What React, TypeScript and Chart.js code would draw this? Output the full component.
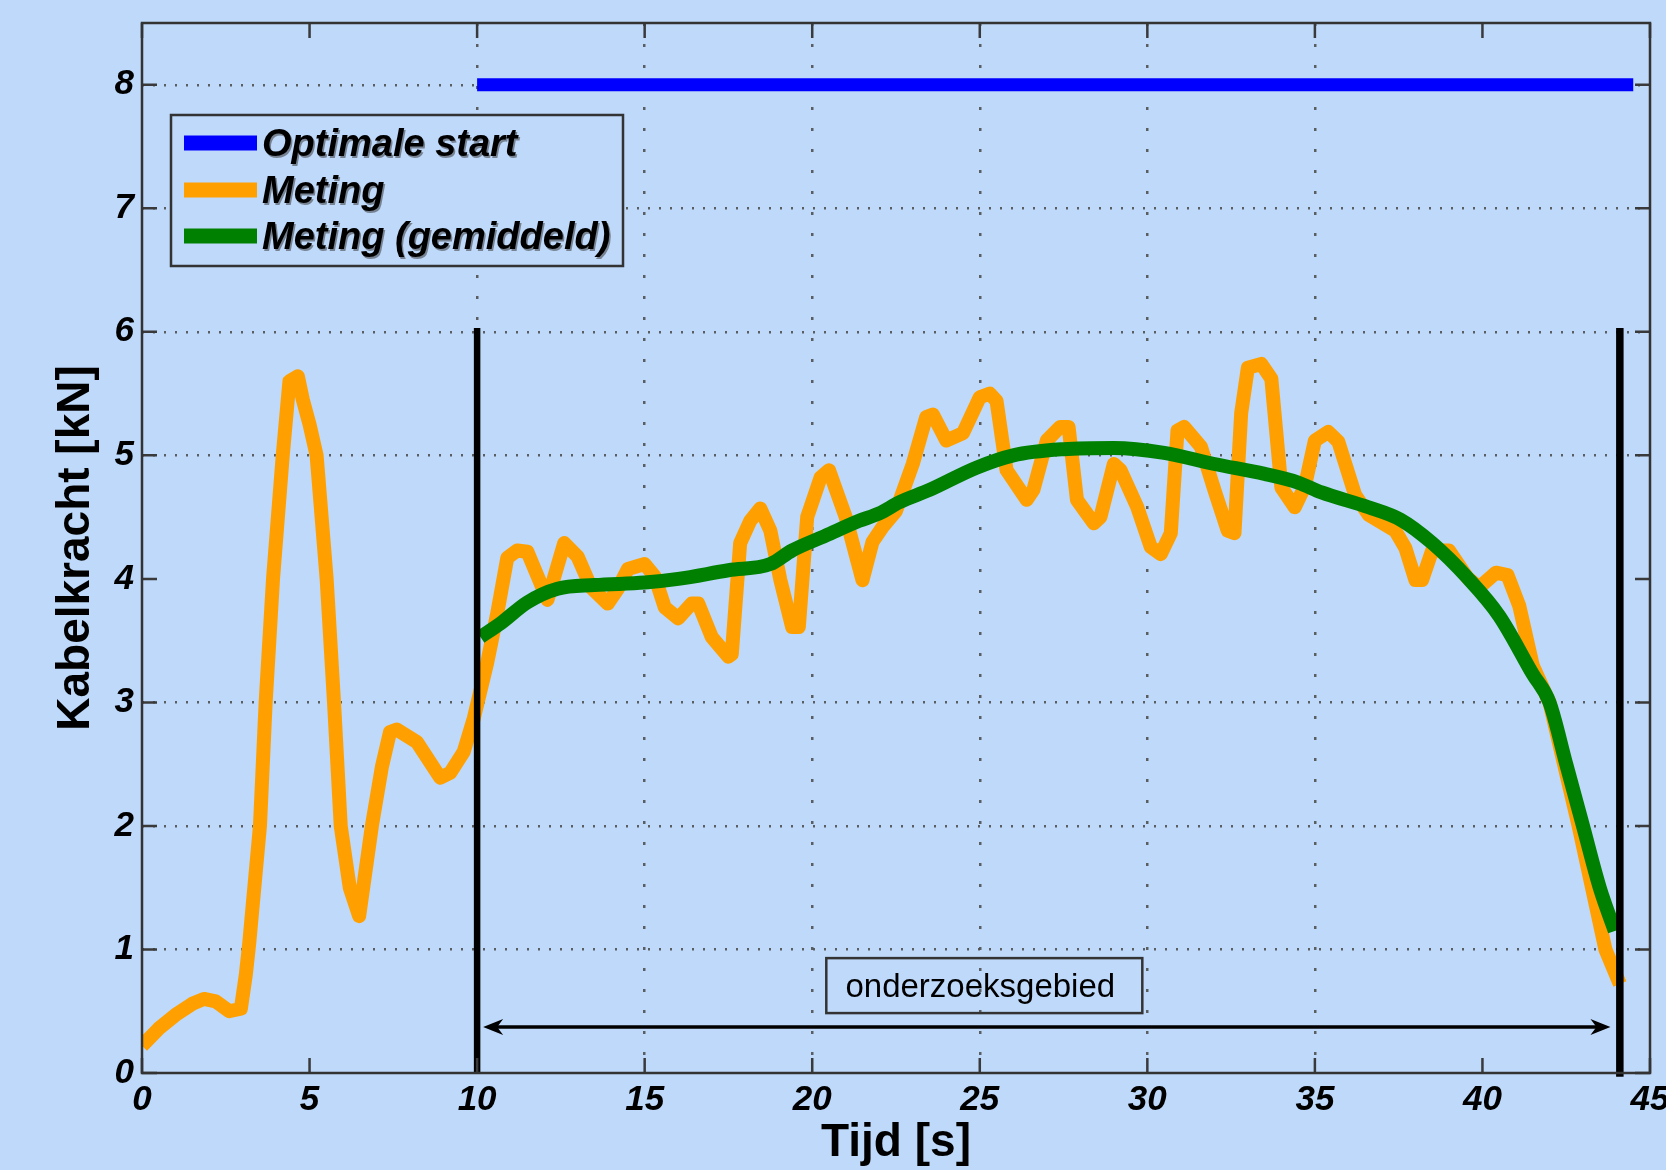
import { useEffect, useRef } from 'react';
import { Chart, registerables } from 'chart.js';

Chart.register(...registerables);

const BG = 'rgb(190,217,250)';
const FONT = '"Liberation Sans", Arial, sans-serif';
const GRID = 'rgba(80,80,80,0.9)';

// ---- axis ticks ----
const xTicks = [0, 5, 10, 15, 20, 25, 30, 35, 40, 45];
const yTicks = [0, 1, 2, 3, 4, 5, 6, 7, 8];
const xGridHidden = [0, 5, 40, 45];
const yGridHidden = [0, 4];

// ---- Meting (measurement) ----
const meetTijd = [
  0.0, 0.5, 1.0, 1.5, 1.85, 2.2, 2.6, 2.95, 3.1, 3.2, 3.52, 3.69, 3.91, 4.2, 4.4, 4.65, 4.8, 5.0,
  5.21, 5.51, 5.73, 5.93, 6.2, 6.48, 6.86, 7.16, 7.4, 7.6, 8.2, 8.9, 9.2, 9.6, 9.9, 10.3, 10.6,
  10.9, 11.2, 11.5, 12.1, 12.6, 13.0, 13.4, 13.9, 14.2, 14.5, 15.0, 15.3, 15.6, 16.0, 16.4, 16.6,
  17.0, 17.5, 17.6, 17.85, 18.15, 18.45, 18.75, 19.05, 19.4, 19.6, 19.85, 20.25, 20.5, 21.0, 21.5,
  21.8, 22.1, 22.5, 23.0, 23.4, 23.6, 24.0, 24.5, 25.0, 25.3, 25.5, 25.8, 26.4, 26.6, 27.0, 27.4,
  27.65, 27.9, 28.4, 28.6, 29.0, 29.2, 29.7, 30.1, 30.4, 30.7, 30.9, 31.1, 31.6, 32.0, 32.4, 32.6,
  32.8, 33.0, 33.4, 33.7, 34.0, 34.4, 34.7, 35.0, 35.4, 35.7, 36.2, 36.6, 37.4, 37.7, 38.0, 38.2,
  38.5, 39.0, 39.55, 39.9, 40.4, 40.75, 41.1, 41.5, 42.0, 42.87, 43.67, 44.1,
];
const meetKracht = [
  0.22, 0.36, 0.47, 0.56, 0.6, 0.58, 0.5, 0.52, 0.8, 1.05, 2.0, 3.0, 4.0, 5.0, 5.6, 5.64, 5.45, 5.25,
  5.0, 4.0, 3.0, 2.0, 1.5, 1.27, 2.0, 2.48, 2.76, 2.78, 2.68, 2.39, 2.43, 2.6, 2.87, 3.32, 3.72,
  4.17, 4.23, 4.22, 3.83, 4.29, 4.18, 3.93, 3.8, 3.92, 4.08, 4.12, 4.02, 3.77, 3.68, 3.8, 3.8,
  3.53, 3.37, 3.39, 4.29, 4.47, 4.57, 4.39, 3.99, 3.61, 3.61, 4.5, 4.82, 4.88, 4.5, 3.99,
  4.3, 4.42, 4.55, 4.93, 5.31, 5.33, 5.12, 5.18, 5.47, 5.5, 5.44, 4.88, 4.64, 4.72, 5.12, 5.23,
  5.23, 4.64, 4.45, 4.5, 4.93, 4.88, 4.58, 4.26, 4.2, 4.37, 5.2, 5.23, 5.07, 4.72, 4.39, 4.37,
  5.34, 5.71, 5.74, 5.62, 4.74, 4.58, 4.75, 5.12, 5.19, 5.11, 4.68, 4.52, 4.39, 4.25, 3.99, 3.99,
  4.23, 4.23, 4.01, 3.93, 4.05, 4.03, 3.78, 3.3, 3.0, 2.0, 1.0, 0.72,
];

// ---- Meting (gemiddeld) (averaged) ----
const gemTijd = [
  10.1, 10.7, 11.5, 12.4, 13.5, 15.0, 16.0, 17.5, 18.75, 19.4, 20.4, 21.4, 22.0, 22.6, 23.5, 24.9,
  26.0, 27.5, 29.0, 30.5, 32.0, 33.5, 34.5, 35.2, 36.6, 37.55, 38.5, 39.55, 40.5, 41.5, 42.0, 42.5,
  43.0, 43.5, 43.95,
];
const gemKracht = [
  3.53, 3.64, 3.81, 3.92, 3.95, 3.97, 4.0, 4.07, 4.12, 4.23, 4.35, 4.47, 4.53, 4.62, 4.72, 4.9,
  5.0, 5.05, 5.06, 5.02, 4.93, 4.85, 4.78, 4.7, 4.58, 4.48, 4.29, 4.01, 3.7, 3.23, 3.0, 2.5,
  2.0, 1.5, 1.15,
];

// ---- Optimale start ----
const optTijd = [10, 44.5];
const optKracht = [8, 8];

// ---- boundaries of research area ----
const grensStartTijd = [10, 10];
const grensStartKracht = [0, 6.03];
const grensEindTijd = [44.1, 44.1];
const grensEindKracht = [-0.03, 6.03];

// ---- annotation ----
const gebiedTekst = 'onderzoeksgebied';
const gebiedBoxTijd = [20.42, 29.85];
const gebiedBoxKracht = [0.485, 0.93];
const pijlTijd = [10.18, 43.82];
const pijlKracht = 0.372;

const xTitle = 'Tijd [s]';
const yTitle = 'Kabelkracht [kN]';

const toXY = (xs: number[], ys: number[]) => xs.map((x, i) => ({ x, y: ys[i] }));

const decorPlugin = {
  id: 'matlabDecor',
  beforeDraw(chart: any) {
    const { ctx, width, height } = chart;
    ctx.save();
    ctx.fillStyle = BG;
    ctx.fillRect(0, 0, width, height);
    ctx.restore();
  },
  afterDatasetsDraw(chart: any) {
    const { ctx } = chart;
    const xs = chart.scales.x;
    const ys = chart.scales.y;
    ctx.save();
    // annotation box
    const bx0 = xs.getPixelForValue(gebiedBoxTijd[0]);
    const bx1 = xs.getPixelForValue(gebiedBoxTijd[1]);
    const by0 = ys.getPixelForValue(gebiedBoxKracht[0]);
    const by1 = ys.getPixelForValue(gebiedBoxKracht[1]);
    ctx.strokeStyle = '#333';
    ctx.lineWidth = 2.5;
    ctx.strokeRect(bx0, by1, bx1 - bx0, by0 - by1);
    ctx.fillStyle = '#000';
    ctx.font = `33px ${FONT}`;
    ctx.textAlign = 'center';
    ctx.textBaseline = 'alphabetic';
    ctx.fillText(gebiedTekst, (bx0 + bx1) / 2 - 4, by0 - 16);
    // double arrow
    const ax0 = xs.getPixelForValue(pijlTijd[0]);
    const ax1 = xs.getPixelForValue(pijlTijd[1]);
    const ay = ys.getPixelForValue(pijlKracht);
    ctx.strokeStyle = '#000';
    ctx.lineWidth = 3.5;
    ctx.beginPath();
    ctx.moveTo(ax0 + 6, ay);
    ctx.lineTo(ax1 - 6, ay);
    ctx.stroke();
    const head = (tip: number, dir: number) => {
      ctx.beginPath();
      ctx.moveTo(tip, ay);
      ctx.lineTo(tip + dir * 20, ay - 8);
      ctx.lineTo(tip + dir * 14, ay);
      ctx.lineTo(tip + dir * 20, ay + 8);
      ctx.closePath();
      ctx.fill();
    };
    head(ax0, 1);
    head(ax1, -1);
    ctx.restore();
  },
  afterDraw(chart: any) {
    const { ctx, chartArea } = chart;
    const { left, right, top, bottom } = chartArea;
    const xs = chart.scales.x;
    const ys = chart.scales.y;
    ctx.save();
    // inward ticks
    ctx.strokeStyle = '#3a3a3a';
    ctx.lineWidth = 2.5;
    ctx.beginPath();
    xTicks.forEach((v) => {
      const p = xs.getPixelForValue(v);
      ctx.moveTo(p, bottom);
      ctx.lineTo(p, bottom - 15);
      ctx.moveTo(p, top);
      ctx.lineTo(p, top + 15);
    });
    yTicks.forEach((v) => {
      const p = ys.getPixelForValue(v);
      ctx.moveTo(left, p);
      ctx.lineTo(left + 15, p);
      ctx.moveTo(right, p);
      ctx.lineTo(right - 15, p);
    });
    ctx.stroke();
    // box
    ctx.strokeStyle = '#333';
    ctx.lineWidth = 2.5;
    ctx.strokeRect(left, top, right - left, bottom - top);

    // legend
    const lx = left + 29;
    const ly = top + 92;
    const lw = 452;
    const lh = 151;
    ctx.fillStyle = BG;
    ctx.fillRect(lx, ly, lw, lh);
    ctx.strokeStyle = '#333';
    ctx.lineWidth = 2.5;
    ctx.strokeRect(lx, ly, lw, lh);
    const rows = [28, 75, 121];
    const entries = chart.data.datasets.filter((d: any) => d.label);
    ctx.font = `italic bold 38px ${FONT}`;
    ctx.textAlign = 'left';
    ctx.textBaseline = 'alphabetic';
    entries.forEach((d: any, i: number) => {
      const ry = ly + rows[i];
      ctx.strokeStyle = d.borderColor;
      ctx.lineWidth = 15;
      ctx.lineCap = 'butt';
      ctx.beginPath();
      ctx.moveTo(lx + 13, ry);
      ctx.lineTo(lx + 86, ry);
      ctx.stroke();
      ctx.save();
      ctx.shadowColor = 'rgba(60,60,60,0.55)';
      ctx.shadowOffsetX = 1.5;
      ctx.shadowOffsetY = 1.5;
      ctx.fillStyle = '#000';
      ctx.fillText(d.label, lx + 91, ry + 13);
      ctx.restore();
    });
    ctx.restore();
  },
};

const tickFont = { family: FONT, size: 35, weight: 'bold' as const, style: 'italic' as const };

export default function App() {
  const ref = useRef<HTMLCanvasElement>(null);
  useEffect(() => {
    document.body.style.margin = '0';
    document.body.style.background = BG;
    const canvas = ref.current!;
    const chart = new Chart(canvas, {
      type: 'line',
      data: {
        datasets: [
          {
            label: 'Optimale start',
            data: toXY(optTijd, optKracht),
            borderColor: '#0000ff',
            borderWidth: 13,
            pointRadius: 0,
            order: 3,
          },
          {
            label: 'Meting',
            data: toXY(meetTijd, meetKracht),
            borderColor: '#ffa000',
            borderWidth: 14,
            pointRadius: 0,
            borderJoinStyle: 'round',
            order: 2,
          },
          {
            label: 'Meting (gemiddeld)',
            data: toXY(gemTijd, gemKracht),
            borderColor: '#008000',
            borderWidth: 14,
            pointRadius: 0,
            borderJoinStyle: 'round',
            cubicInterpolationMode: 'monotone',
            order: 1,
          },
          {
            data: toXY(grensStartTijd, grensStartKracht),
            borderColor: '#000',
            borderWidth: 6.5,
            pointRadius: 0,
            order: 0,
            clip: false,
          } as any,
          {
            data: toXY(grensEindTijd, grensEindKracht),
            borderColor: '#000',
            borderWidth: 7.5,
            pointRadius: 0,
            order: 0,
            clip: false,
          } as any,
        ],
      },
      options: {
        responsive: false,
        animation: false,
        devicePixelRatio: 1,
        layout: { padding: { top: 23, right: 16, left: 0, bottom: 0 } },
        plugins: { legend: { display: false }, tooltip: { enabled: false } },
        elements: { line: { tension: 0 } },
        scales: {
          x: {
            type: 'linear',
            min: 0,
            max: 45,
            afterBuildTicks: (s: any) => {
              s.ticks = xTicks.map((v) => ({ value: v }));
            },
            afterFit: (s: any) => {
              s.height = 97;
              s.paddingLeft = 0;
              s.paddingRight = 0;
            },
            ticks: {
              autoSkip: false,
              maxRotation: 0,
              minRotation: 0,
              padding: 6,
              color: '#000',
              font: tickFont,
              callback: (v: any) => String(v),
            },
            grid: {
              drawTicks: false,
              lineWidth: 2.5,
              color: (c: any) => (xGridHidden.includes(c.tick?.value) ? 'rgba(0,0,0,0)' : GRID),
            },
            border: { display: false, dash: [3, 18] },
            title: {
              display: true,
              text: xTitle,
              color: '#000',
              font: { family: FONT, size: 46, weight: 'bold' },
              padding: { top: 0, bottom: -1 },
            },
          },
          y: {
            type: 'linear',
            min: 0,
            max: 8.5,
            afterBuildTicks: (s: any) => {
              s.ticks = yTicks.map((v) => ({ value: v }));
            },
            afterFit: (s: any) => {
              s.width = 142;
              s.paddingTop = 0;
              s.paddingBottom = 0;
            },
            ticks: {
              autoSkip: false,
              padding: 8,
              color: '#000',
              font: tickFont,
              callback: (v: any) => String(v),
            },
            grid: {
              drawTicks: false,
              lineWidth: 2.5,
              color: (c: any) => (yGridHidden.includes(c.tick?.value) ? 'rgba(0,0,0,0)' : GRID),
            },
            border: { display: false, dash: [2, 9] },
            title: {
              display: true,
              text: yTitle,
              color: '#000',
              font: { family: FONT, size: 46, weight: 'bold' },
              padding: { top: 49, bottom: 0 },
            },
          },
        },
      } as any,
      plugins: [decorPlugin],
    });
    return () => chart.destroy();
  }, []);
  return (
    <div style={{ width: 1666, height: 1170, background: BG }}>
      <canvas ref={ref} width={1666} height={1170} style={{ display: 'block', width: 1666, height: 1170 }} />
    </div>
  );
}
